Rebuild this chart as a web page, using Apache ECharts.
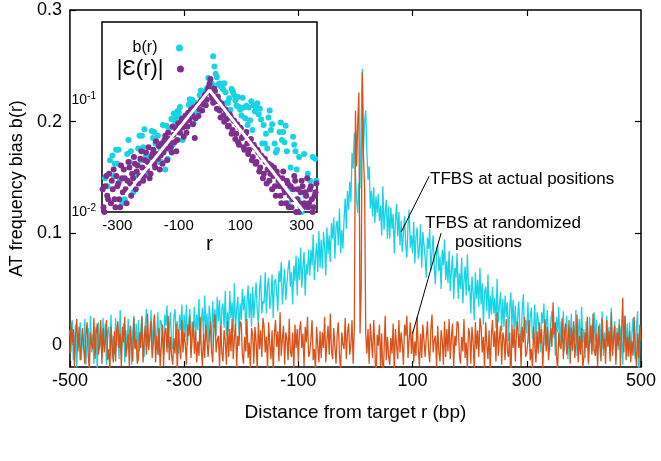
<!DOCTYPE html>
<html><head><meta charset="utf-8">
<script src="https://cdn.jsdelivr.net/npm/echarts@6/dist/echarts.min.js"></script>
<style>html,body{margin:0;padding:0;background:#fff}#c{width:661px;height:461px}</style>
</head><body><div id="c"></div>
<script>
// sampling grid of the main curves (bp); values below are in thousandths
const X_START = -500, X_STEP = 2, UNIT = 0.001;
// AT frequency bias (x1e-3), TFBS at actual positions
const actual = [
13,-7,22,-14,5,18,-21,7,-2,20,
-14,9,-5,23,-18,2,15,-11,26,-7,
9,-17,16,3,-23,20,-4,13,-11,24,
0,19,-18,11,16,-6,27,-13,8,-9,
24,0,14,-13,31,-8,7,19,-16,13,
-5,23,4,17,-18,11,26,-3,19,-11,
22,-6,11,26,0,-11,18,32,-2,9,
3,31,-6,18,26,-2,7,29,-10,22,
20,9,-9,27,17,35,-3,14,29,1,
-4,24,32,8,21,-8,27,13,36,0,
27,7,36,0,19,32,-7,21,12,34,
4,27,13,41,0,20,33,7,44,11,
28,2,35,22,-4,39,15,32,8,43,
21,40,3,32,37,15,48,8,29,12,
48,24,38,11,55,16,31,43,8,37,
22,50,31,44,9,38,53,24,46,16,
52,24,41,56,30,19,48,62,28,39,
37,65,28,52,60,32,41,63,24,56,
59,48,30,66,56,74,36,53,68,40,
40,68,76,52,65,36,71,57,80,44,
78,58,87,51,70,83,44,72,63,85,
62,85,71,99,58,78,91,65,102,69,
94,68,101,88,62,105,81,98,74,109,
95,114,77,106,111,89,122,82,103,86,
112,131,104,138,121,146,128,172,158,190,
155,130,118,145,140,200,247,175,200,210,
172,148,160,122,138,115,141,109,133,118,
135,111,125,98,142,103,118,130,95,124,
95,123,104,117,82,111,126,97,119,89,
111,83,100,115,89,78,107,121,87,98,
82,110,73,97,105,77,86,108,69,101,
89,78,60,96,86,104,66,83,98,70,
54,82,90,66,79,50,85,71,94,58,
75,55,84,48,67,80,41,69,60,82,
41,64,50,78,37,57,70,44,81,48,
54,28,61,48,22,65,41,58,34,69,
36,55,18,47,52,30,63,23,44,27,
52,28,42,15,59,20,35,47,12,41,
16,44,25,38,3,32,47,18,40,10,
35,7,24,39,13,2,31,45,11,22,
10,38,1,25,33,5,14,36,-3,29,
22,11,-7,29,19,37,-1,16,31,3,
-6,22,30,6,19,-10,25,11,34,-2,
21,1,30,-6,13,26,-13,15,6,28,
-6,17,3,31,-10,10,23,-3,34,1,
14,-12,21,8,-18,25,1,18,-6,29,
3,22,-15,14,19,-3,30,-10,11,-6,
26,2,16,-11,33,-6,9,21,-14,15,
-5,23,4,17,-18,11,26,-3,19,-11,
20,-8,9,24,-2,-13,16,30,-37,7,
6
];
// AT frequency bias (x1e-3), TFBS at randomized positions
const randomized = [
-8,20,1,14,-21,8,23,-6,16,-14,
-13,15,-2,-17,9,20,-9,-23,11,0,
-4,24,-13,11,19,-9,0,22,-17,15,
-7,4,22,-14,-4,-22,16,-1,-16,12,
-15,13,21,-3,10,-19,16,2,25,-11,
-10,10,-19,17,-2,-15,24,-4,5,-17,
-12,11,-3,25,-16,4,17,-9,28,-5,
-5,21,-12,1,27,-16,8,-9,15,-20,
-1,18,-19,10,15,-7,26,-14,7,-10,
-18,6,-8,19,-25,14,-1,-13,22,-7,
11,0,-18,18,8,26,-12,5,20,-8,
12,-16,3,-10,25,-4,-19,10,-12,18,
17,-11,6,21,-5,-16,13,27,-7,4,
8,-20,17,-7,-15,13,4,-18,21,-11,
14,-6,23,-13,6,19,-20,8,-1,21,
19,-9,-17,7,-6,23,-12,2,-21,15,
9,-17,16,3,-23,20,-4,13,-11,24,
16,-7,7,-21,20,0,-13,13,-24,9,
22,-2,12,-15,29,-10,5,17,-18,11,
5,-14,23,-6,-11,11,-22,18,-3,14,
-15,13,21,-3,10,-19,16,2,25,-11,
-7,4,22,-14,-4,-22,16,-1,-16,12,
-12,11,-3,25,-16,4,17,-9,28,-5,
-13,15,-2,-17,9,20,-9,-23,11,0,
-4,24,-13,11,19,-9,0,22,-17,15,
210,160,200,226,10,50,244,170,140,10,
-8,14,-17,19,3,-12,22,-2,-38,9,
-1,18,-19,10,-37,-7,26,-14,7,-10,
-18,6,-8,19,-25,14,-1,-13,22,-7,
11,0,-18,18,8,26,-12,5,20,-8,
12,-16,3,-10,25,-4,-19,10,-12,18,
17,-11,6,21,-5,-16,13,27,-7,4,
8,-20,17,-7,-15,13,4,-18,21,-11,
14,-6,23,-13,6,19,-20,8,-1,21,
19,-9,-17,7,-6,23,-12,2,-21,15,
9,-17,16,3,-23,20,-4,13,-11,24,
16,-7,7,-21,20,0,-13,13,-24,9,
22,-2,12,-15,29,-10,5,17,-18,11,
5,-14,23,-6,-11,11,-40,18,-3,14,
-15,13,21,-3,10,-19,16,2,25,-11,
-7,4,22,-14,-4,-22,16,-1,-16,12,
-8,20,1,14,-21,8,23,-6,16,-14,
-13,15,-2,38,9,20,-9,-23,11,0,
-4,24,-13,11,19,-9,0,22,-17,15,
-5,21,-12,1,27,-16,8,-9,15,-20,
-12,11,-3,25,-16,4,17,-9,28,-5,
-10,10,-19,17,-2,-15,24,-4,5,-17,
22,-2,12,-15,29,-10,5,17,-18,11,
-1,18,-19,10,42,-7,26,-14,7,-10,
12,-16,3,-10,25,-4,-19,10,-12,18,
4
];
// |E(r)| samples for the inset, two interleaved grids
const EPS_A_START = -348, EPS_B_START = -345, EPS_STEP = 6;
const epsA = [
0.016,0.01,0.021,0.013,0.009,0.019,0.024,0.011,0.017,0.013,
0.026,0.015,0.02,0.012,0.028,0.018,0.022,0.031,0.016,0.026,
0.021,0.035,0.019,0.029,0.024,0.038,0.022,0.033,0.027,0.043,
0.03,0.024,0.041,0.034,0.048,0.029,0.045,0.038,0.058,0.042,
0.035,0.062,0.051,0.068,0.047,0.073,0.058,0.066,0.082,0.061,
0.046,0.088,0.072,0.095,0.081,0.104,0.09,0.122,0.14,0.112,
0.095,0.121,0.084,0.099,0.07,0.088,0.064,0.079,0.058,0.075,
0.05,0.066,0.045,0.061,0.04,0.056,0.047,0.036,0.052,0.033,
0.044,0.029,0.04,0.027,0.036,0.023,0.032,0.02,0.03,0.018,
0.027,0.022,0.016,0.025,0.014,0.021,0.017,0.012,0.023,0.015,
0.019,0.011,0.017,0.013,0.021,0.01,0.016,0.012,0.019,0.011,
0.015,0.02,0.012,0.017,0.01,0.014,0.018
];
const epsB = [
0.011,0.017,0.014,0.022,0.012,0.016,0.013,0.021,0.018,0.011,
0.02,0.024,0.016,0.019,0.025,0.014,0.02,0.027,0.023,0.018,
0.03,0.025,0.021,0.034,0.028,0.02,0.031,0.036,0.025,0.033,
0.039,0.032,0.027,0.044,0.037,0.051,0.041,0.034,0.049,0.056,
0.044,0.052,0.064,0.057,0.062,0.051,0.077,0.07,0.074,0.086,
0.069,0.091,0.083,0.1,0.092,0.112,0.101,0.13,0.155,0.104,
0.127,0.098,0.108,0.081,0.094,0.073,0.083,0.068,0.059,0.071,
0.054,0.065,0.05,0.042,0.057,0.046,0.038,0.05,0.041,0.036,
0.045,0.031,0.038,0.028,0.034,0.025,0.031,0.022,0.028,0.024,
0.019,0.026,0.021,0.017,0.023,0.019,0.014,0.02,0.016,0.012,
0.018,0.014,0.011,0.016,0.019,0.013,0.01,0.015,0.017,0.012,
0.014,0.011,0.016,0.013,0.011,0.015,0.012
];
// exponential fit lines (inset)
const fitLine = [[-272, 0.0143], [0, 0.123], [305, 0.0102]];
// the inset shows b(r) every INSET_B_STEP bp
const INSET_B_STEP = 4;
// axis ticks
const xTicks = [-500, -300, -100, 100, 300, 500];
const xTopTicks = [-300, -100, 100, 300];
const yTicks = [0, 0.1, 0.2, 0.3];
const insetXTicks = [-300, -100, 100, 300];
const insetYTicks = [0.01, 0.1];
const insetYAllTicks = [0.02,0.03,0.04,0.05,0.06,0.07,0.08,0.09,0.1,0.2,0.3,0.4];
// annotation arrows [tail, head] in data coords
const arrowActual = [[129, 0.151], [80, 0.101]];
const arrowRandom = [[150, 0.100], [100, 0.010]];

const CYAN = '#17d3e6', ORANGE = '#d95319', PURPLE = '#7e2f8e';
const FONT = 'Liberation Sans, Arial, Helvetica, sans-serif';

const actualData = actual.map((v, i) => [X_START + i * X_STEP, v * UNIT]);
const randomData = randomized.map((v, i) => [X_START + i * X_STEP, v * UNIT]);
const insetB = actualData.filter(d => d[0] >= -350 && d[0] <= 350 && d[1] > 0 && d[0] % INSET_B_STEP === 0);
const insetE = epsA.map((v, i) => [EPS_A_START + i * EPS_STEP, v])
  .concat(epsB.map((v, i) => [EPS_B_START + i * EPS_STEP, v]))
  .filter(d => d[0] >= -350 && d[0] <= 350 && d[1] > 0);

const chart = echarts.init(document.getElementById('c'), null, {renderer: 'canvas'});
const tickStyle = {color: '#000', width: 1.2};
const noLine = {show: false, onZero: false};
chart.setOption({
  animation: false,
  backgroundColor: '#fff',
  textStyle: {fontFamily: FONT},
  grid: [
    {left: 69, top: 10, width: 572, height: 357, show: true, borderColor: '#000', borderWidth: 1.5, backgroundColor: 'transparent'},
    {left: 102, top: 22, width: 215, height: 190, show: true, borderColor: '#000', borderWidth: 1.5, backgroundColor: '#fff', z: 5}
  ],
  xAxis: [
    {gridIndex: 0, type: 'value', position: 'bottom', min: -500, max: 500,
     axisLine: noLine, splitLine: {show: false},
     axisTick: {inside: true, length: 6, lineStyle: tickStyle, customValues: xTicks},
     axisLabel: {customValues: xTicks, color: '#000', fontSize: 18, margin: 5, fontFamily: FONT},
     name: 'Distance from target r (bp)', nameLocation: 'middle', nameGap: 36,
     nameTextStyle: {fontSize: 19, color: '#000', fontFamily: FONT}},
    {gridIndex: 0, type: 'value', position: 'top', min: -500, max: 500,
     axisLine: noLine, splitLine: {show: false},
     axisTick: {inside: true, length: 6, lineStyle: tickStyle, customValues: xTopTicks},
     axisLabel: {show: false}},
    {gridIndex: 1, type: 'value', position: 'bottom', min: -350, max: 350,
     axisLine: noLine, splitLine: {show: false},
     axisTick: {inside: true, length: 5, lineStyle: tickStyle, customValues: insetXTicks},
     axisLabel: {customValues: insetXTicks, color: '#000', fontSize: 15, margin: 6, fontFamily: FONT},
     name: 'r', nameLocation: 'middle', nameGap: 20,
     nameTextStyle: {fontSize: 21, color: '#000', fontFamily: FONT}},
    {gridIndex: 1, type: 'value', position: 'top', min: -350, max: 350,
     axisLine: noLine, splitLine: {show: false},
     axisTick: {inside: true, length: 5, lineStyle: tickStyle, customValues: insetXTicks},
     axisLabel: {show: false}}
  ],
  yAxis: [
    {gridIndex: 0, type: 'value', position: 'left', min: -0.02, max: 0.3,
     axisLine: noLine, splitLine: {show: false},
     axisTick: {inside: true, length: 6, lineStyle: tickStyle, customValues: yTicks},
     axisLabel: {customValues: yTicks, color: '#000', fontSize: 18, margin: 8, fontFamily: FONT},
     name: 'AT frequency bias b(r)', nameLocation: 'middle', nameGap: 40,
     nameTextStyle: {fontSize: 18, color: '#000', fontFamily: FONT}},
    {gridIndex: 0, type: 'value', position: 'right', min: -0.02, max: 0.3,
     axisLine: noLine, splitLine: {show: false},
     axisTick: {inside: true, length: 6, lineStyle: tickStyle, customValues: [0.1, 0.2]},
     axisLabel: {show: false}},
    {gridIndex: 1, type: 'log', logBase: 10, position: 'left', min: 0.01, max: 0.5,
     axisLine: noLine, splitLine: {show: false}, minorTick: {show: false},
     axisTick: {inside: true, length: 5, lineStyle: tickStyle, customValues: insetYAllTicks},
     axisLabel: {customValues: insetYTicks, margin: 6, color: '#000',
       formatter: v => '{b|10}{s|' + Math.round(Math.log10(v)) + '}',
       rich: {b: {fontSize: 14, fontFamily: FONT, color: '#000'},
              s: {fontSize: 10, fontFamily: FONT, color: '#000', padding: [0, 0, 8, 0]}}}},
    {gridIndex: 1, type: 'log', logBase: 10, position: 'right', min: 0.01, max: 0.5,
     axisLine: noLine, splitLine: {show: false}, minorTick: {show: false},
     axisTick: {inside: true, length: 5, lineStyle: tickStyle, customValues: insetYAllTicks},
     axisLabel: {show: false}}
  ],
  legend: [
    {data: ['b(r)'], right: 478, top: 40, orient: 'vertical', align: 'right', padding: 0, z: 20,
     icon: 'circle', itemWidth: 34, itemHeight: 7, selectedMode: false,
     textStyle: {fontSize: 16, color: '#000', fontFamily: FONT}},
    {data: ['|Ɛ(r)|'], right: 477, top: 58, orient: 'vertical', align: 'right', padding: 0, z: 20,
     icon: 'circle', itemWidth: 24, itemHeight: 7, selectedMode: false,
     textStyle: {fontSize: 22, color: '#000', fontFamily: FONT}}
  ],
  series: [
    {name: 'TFBS at actual positions', type: 'line', xAxisIndex: 0, yAxisIndex: 0,
     data: actualData, showSymbol: false, symbol: 'none', lineStyle: {color: CYAN, width: 1.3},
     itemStyle: {color: CYAN}, z: 2},
    {name: 'TFBS at randomized positions', type: 'line', xAxisIndex: 0, yAxisIndex: 0,
     data: randomData, showSymbol: false, symbol: 'none', lineStyle: {color: ORANGE, width: 1.3},
     itemStyle: {color: ORANGE}, z: 3},
    {name: 'arrows', type: 'line', xAxisIndex: 0, yAxisIndex: 0, data: [], z: 4,
     markLine: {silent: true, symbol: ['none', 'arrow'], symbolSize: [0, 9], animation: false,
       label: {show: false}, lineStyle: {color: '#000', width: 1, type: 'solid'},
       data: [
         [{coord: arrowActual[0]}, {coord: arrowActual[1]}],
         [{coord: arrowRandom[0]}, {coord: arrowRandom[1]}]
       ]}},
    {name: 'b(r)', type: 'scatter', xAxisIndex: 2, yAxisIndex: 2, data: insetB,
     symbolSize: 6, itemStyle: {color: CYAN, opacity: 1}, z: 6},
    {name: '|Ɛ(r)|', type: 'scatter', xAxisIndex: 2, yAxisIndex: 2, data: insetE,
     symbolSize: 6, itemStyle: {color: PURPLE, opacity: 1}, z: 7},
    {name: 'fit', type: 'line', xAxisIndex: 2, yAxisIndex: 2, data: fitLine,
     showSymbol: false, symbol: 'none', lineStyle: {color: '#fff', width: 3}, z: 8}
  ],
  graphic: [
    {type: 'text', x: 430, y: 179, z: 10, style: {text: 'TFBS at actual positions', fontSize: 17, fontFamily: FONT, fill: '#000', verticalAlign: 'middle'}},
    {type: 'text', x: 425, y: 223, z: 10, style: {text: 'TFBS at randomized', fontSize: 17, fontFamily: FONT, fill: '#000', verticalAlign: 'middle'}},
    {type: 'text', x: 455, y: 242, z: 10, style: {text: 'positions', fontSize: 17, fontFamily: FONT, fill: '#000', verticalAlign: 'middle'}}
  ]
});
</script></body></html>
